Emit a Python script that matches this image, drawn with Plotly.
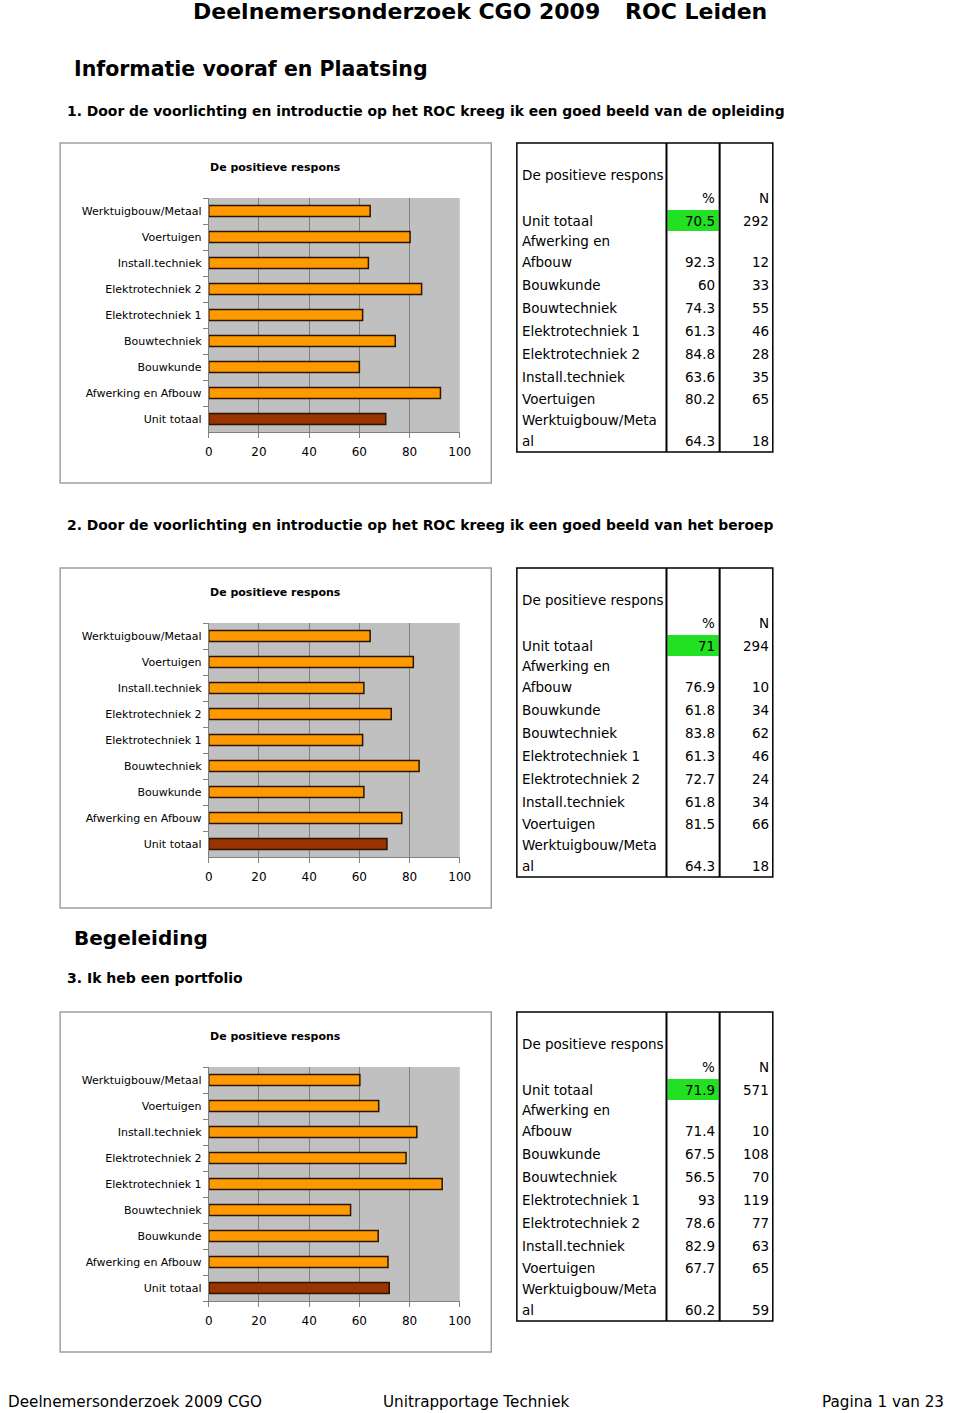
import plotly.graph_objects as go
from plotly.subplots import make_subplots

W, H = 960, 1413

# categorieën (van onder naar boven in de grafiek, zelfde volgorde als tabel)
categories = ['Unit totaal', 'Afwerking en Afbouw', 'Bouwkunde', 'Bouwtechniek',
              'Elektrotechniek 1', 'Elektrotechniek 2', 'Install.techniek',
              'Voertuigen', 'Werktuigbouw/Metaal']

# tabel-labels (met afbreking zoals in het rapport)
table_labels = ['Unit totaal', 'Afwerking en<br>Afbouw', 'Bouwkunde', 'Bouwtechniek',
                'Elektrotechniek 1', 'Elektrotechniek 2', 'Install.techniek',
                'Voertuigen', 'Werktuigbouw/Meta<br>al']

pct_q1 = [70.5, 92.3, 60, 74.3, 61.3, 84.8, 63.6, 80.2, 64.3]
n_q1 = [292, 12, 33, 55, 46, 28, 35, 65, 18]

pct_q2 = [71, 76.9, 61.8, 83.8, 61.3, 72.7, 61.8, 81.5, 64.3]
n_q2 = [294, 10, 34, 62, 46, 24, 34, 66, 18]

pct_q3 = [71.9, 71.4, 67.5, 56.5, 93, 78.6, 82.9, 67.7, 60.2]
n_q3 = [571, 10, 108, 70, 119, 77, 63, 65, 59]

x_ticks = [0, 20, 40, 60, 80, 100]

blocks = [(pct_q1, n_q1, 0), (pct_q2, n_q2, 425), (pct_q3, n_q3, 869)]

FONT = 'DejaVu Sans'


def px(x):
    return x / W


def py(y):
    return 1 - y / H


fig = make_subplots(rows=3, cols=1)

shapes = []
annotations = []

for i, (pct, n, dy) in enumerate(blocks):
    colors = ['#993300'] + ['#FF9900'] * (len(pct) - 1)
    fig.add_trace(go.Bar(
        x=pct, y=categories, orientation='h',
        marker=dict(color=colors, line=dict(color='#2B1500', width=1.5)),
        width=0.42, showlegend=False, hoverinfo='x+y'
    ), row=i + 1, col=1)

    ax = '' if i == 0 else str(i + 1)
    fig.update_layout(**{
        'xaxis' + ax: dict(
            domain=[px(208), px(463)], range=[0, 100], tickvals=x_ticks,
            showgrid=True, gridcolor='#808080', gridwidth=1, zeroline=False,
            showline=True, linecolor='#808080', ticks='outside', ticklen=5,
            tickcolor='#808080', tickfont=dict(family=FONT, size=12, color='black'),
            ticklabelstandoff=4, fixedrange=True
        ),
        'yaxis' + ax: dict(
            domain=[py(432 + dy), py(198 + dy)], type='category',
            showline=True, linecolor='#808080', ticks='outside', ticklen=5,
            tickson='boundaries', tickcolor='#808080', ticklabelstandoff=4,
            tickfont=dict(family=FONT, size=11, color='black'), fixedrange=True
        ),
    })

    # kader om de grafiek
    shapes.append(dict(type='rect', xref='paper', yref='paper',
                       x0=px(57), x1=px(495), y0=py(483 + dy), y1=py(143 + dy),
                       line=dict(color='#A0A0A0', width=1.5)))
    annotations.append(dict(text='<b>De positieve respons</b>', x=px(276), y=py(167 + dy),
                            xref='paper', yref='paper', xanchor='center', yanchor='middle',
                            showarrow=False, font=dict(family=FONT, size=11, color='black')))

    # tabel
    shapes.append(dict(type='rect', xref='paper', yref='paper',
                       x0=px(674), x1=px(726), y0=py(231 + dy), y1=py(210 + dy),
                       fillcolor='#22E022', line=dict(width=0), layer='below'))
    shapes.append(dict(type='rect', xref='paper', yref='paper',
                       x0=px(521), x1=px(781), y0=py(452 + dy), y1=py(143 + dy),
                       line=dict(color='black', width=1.5)))
    for xl in (673, 727):
        shapes.append(dict(type='line', xref='paper', yref='paper',
                           x0=px(xl), x1=px(xl), y0=py(452 + dy), y1=py(143 + dy),
                           line=dict(color='black', width=2)))

    tfont = dict(family=FONT, size=13.5, color='black')
    annotations.append(dict(text='De positieve respons', x=px(524), y=py(175 + dy),
                            xref='paper', yref='paper', xanchor='left', yanchor='middle',
                            showarrow=False, font=tfont))
    annotations.append(dict(text='%', x=px(724), y=py(198 + dy), xref='paper', yref='paper',
                            xanchor='right', yanchor='middle', showarrow=False, font=tfont))
    annotations.append(dict(text='N', x=px(779), y=py(198 + dy), xref='paper', yref='paper',
                            xanchor='right', yanchor='middle', showarrow=False, font=tfont))

    row_y = [221, 262, 285, 308, 331, 354, 377, 399, 441]
    for lab, p, nn, ry in zip(table_labels, pct, n, row_y):
        if '<br>' in lab:
            first, second = lab.split('<br>')
            annotations.append(dict(text=first, x=px(524), y=py(ry - 21 + dy), xref='paper',
                                    yref='paper', xanchor='left', yanchor='middle',
                                    showarrow=False, font=tfont))
            lab = second
        annotations.append(dict(text=lab, x=px(524), y=py(ry + dy), xref='paper', yref='paper',
                                xanchor='left', yanchor='middle', showarrow=False, font=tfont))
        annotations.append(dict(text=f'{p:g}', x=px(724), y=py(ry + dy), xref='paper',
                                yref='paper', xanchor='right', yanchor='middle',
                                showarrow=False, font=tfont))
        annotations.append(dict(text=str(nn), x=px(779), y=py(ry + dy), xref='paper',
                                yref='paper', xanchor='right', yanchor='middle',
                                showarrow=False, font=tfont))


def text(t, x, y, size, anchor='left', bold=False):
    if bold:
        t = '<b>' + t + '</b>'
    annotations.append(dict(text=t, x=px(x), y=py(y), xref='paper', yref='paper',
                            xanchor=anchor, yanchor='middle', showarrow=False,
                            font=dict(family=FONT, size=size, color='black')))


# koppen
text('Deelnemersonderzoek CGO 2009', 190, 12, 22, bold=True)
text('ROC Leiden', 629, 12, 22, bold=True)
text('Informatie vooraf en Plaatsing', 69, 69, 20.5, bold=True)
text('1. Door de voorlichting en introductie op het ROC kreeg ik een goed beeld van de opleiding',
     62, 111, 13.9, bold=True)
text('2. Door de voorlichting en introductie op het ROC kreeg ik een goed beeld van het beroep',
     62, 525, 13.9, bold=True)
text('Begeleiding', 69, 938, 20, bold=True)
text('3. Ik heb een portfolio', 62, 978, 14, bold=True)

# voettekst
text('Deelnemersonderzoek 2009 CGO', 2, 1402, 15.2)
text('Unitrapportage Techniek', 383, 1402, 15.2)
text('Pagina 1 van 23', 957, 1402, 15.2, anchor='right')

fig.update_layout(
    width=W, height=H, autosize=False,
    margin=dict(l=0, r=0, t=0, b=0),
    paper_bgcolor='white',
    plot_bgcolor='#C0C0C0',
    shapes=shapes,
    annotations=annotations,
    showlegend=False,
)

# pagina zonder standaard body-marge, zodat de figuur precies het venster vult
fig.write_html('out.html',
               config={'responsive': False, 'displayModeBar': False},
               post_script="document.documentElement.style.overflow='hidden';"
                           "document.body.style.margin='0';"
                           "document.body.style.overflow='hidden';")
